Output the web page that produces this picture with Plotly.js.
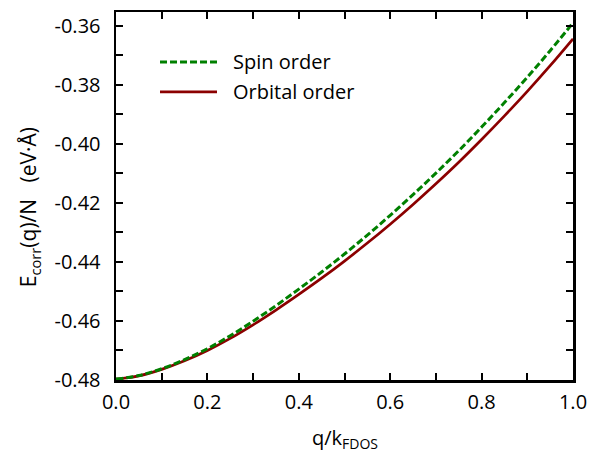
<!DOCTYPE html>
<html>
<head>
<meta charset="utf-8">
<script src="https://cdn.plot.ly/plotly-3.0.1.min.js"></script>
<style>html,body{margin:0;padding:0;background:#fff;}#chart{width:598px;height:453px;}</style>
</head>
<body>
<div id="chart"></div>
<script>
const q = [0, 0.05, 0.1, 0.15, 0.2, 0.25, 0.3, 0.35, 0.4, 0.45, 0.5, 0.55, 0.6, 0.65, 0.7, 0.75, 0.8, 0.85, 0.9, 0.95, 1.0];
const orbitalOrder = [-0.4797, -0.4786, -0.4764, -0.4735, -0.4700, -0.4659, -0.4613, -0.4563, -0.4510, -0.4455, -0.4397, -0.4336, -0.4272, -0.4205, -0.4135, -0.4062, -0.3985, -0.3905, -0.3822, -0.3735, -0.3644];
const spinOrder = [-0.4797, -0.4785, -0.4762, -0.4731, -0.4694, -0.4650, -0.4601, -0.4548, -0.4492, -0.4434, -0.4373, -0.4309, -0.4242, -0.4172, -0.4099, -0.4023, -0.3943, -0.3860, -0.3774, -0.3684, -0.3590];
const seriesNames = ["Spin order", "Orbital order"];
const yTickVals = [-0.48, -0.46, -0.44, -0.42, -0.40, -0.38, -0.36];
const yTickText = ["-0.48", "-0.46", "-0.44", "-0.42", "-0.40", "-0.38", "-0.36"];
const xTickVals = [0, 0.2, 0.4, 0.6, 0.8, 1.0];
const xTickText = ["0.0", "0.2", "0.4", "0.6", "0.8", "1.0"];
const xTitle = "q/k<sub>FDOS</sub>";
const yTitle = "E<sub>corr</sub>(q)/N&nbsp;&nbsp;&nbsp;(eV·Å)";

const green = "#008000";
const red = "#8b0000";
const font = "Open Sans, Noto Sans, sans-serif";
const fs = 20;

const traces = [
  {x: q, y: orbitalOrder, name: seriesNames[1], mode: "lines", line: {color: red, width: 2.7, shape: "spline"}},
  {x: q, y: spinOrder, name: seriesNames[0], mode: "lines", line: {color: green, width: 3, dash: "7px,3px", shape: "spline"}}
];

const axisCommon = {
  showline: true, linecolor: "#000", linewidth: 2.5, mirror: "ticks",
  ticks: "inside", ticklen: 7, tickwidth: 2, tickcolor: "#000",
  showgrid: false, zeroline: false, tickmode: "array",
  tickfont: {family: font, size: fs, color: "#000"}
};

const layout = {
  width: 598, height: 453,
  margin: {l: 116, r: 25, t: 12, b: 73},
  paper_bgcolor: "#fff", plot_bgcolor: "#fff",
  showlegend: false,
  xaxis: Object.assign({}, axisCommon, {
    range: [0, 1], tickvals: xTickVals, ticktext: xTickText, ticklabelstandoff: 2,
    minor: {dtick: 0.1, tick0: 0, ticks: "inside", ticklen: 7, tickwidth: 2, tickcolor: "#000", showgrid: false}
  }),
  yaxis: Object.assign({}, axisCommon, {
    range: [-0.48, -0.3553], tickvals: yTickVals, ticktext: yTickText, ticklabelstandoff: 9,
    minor: {dtick: 0.01, tick0: -0.48, ticks: "inside", ticklen: 7, tickwidth: 2, tickcolor: "#000", showgrid: false}
  }),
  shapes: [
    {type: "line", xref: "paper", yref: "paper", x0: 0.0963, x1: 0.221, y0: 0.864, y1: 0.864, line: {color: green, width: 3, dash: "7px,3px"}},
    {type: "line", xref: "paper", yref: "paper", x0: 0.0963, x1: 0.221, y0: 0.783, y1: 0.783, line: {color: red, width: 2.7}}
  ],
  annotations: [
    {xref: "paper", yref: "paper", x: 0.252, y: 0.866, xanchor: "left", yanchor: "middle", text: seriesNames[0], showarrow: false, font: {family: font, size: fs, color: "#000"}},
    {xref: "paper", yref: "paper", x: 0.252, y: 0.785, xanchor: "left", yanchor: "middle", text: seriesNames[1], showarrow: false, font: {family: font, size: fs, color: "#000"}},
    {xref: "paper", yref: "paper", x: -0.19, y: 0.47, xanchor: "center", yanchor: "middle", textangle: -90, text: yTitle, showarrow: false, font: {family: font, size: 21, color: "#000"}},
    {xref: "paper", yref: "paper", x: 0.5, y: -0.16, xanchor: "center", yanchor: "middle", text: xTitle, showarrow: false, font: {family: font, size: fs, color: "#000"}}
  ]
};

Plotly.newPlot("chart", traces, layout, {displayModeBar: false, staticPlot: true});
</script>
</body>
</html>
